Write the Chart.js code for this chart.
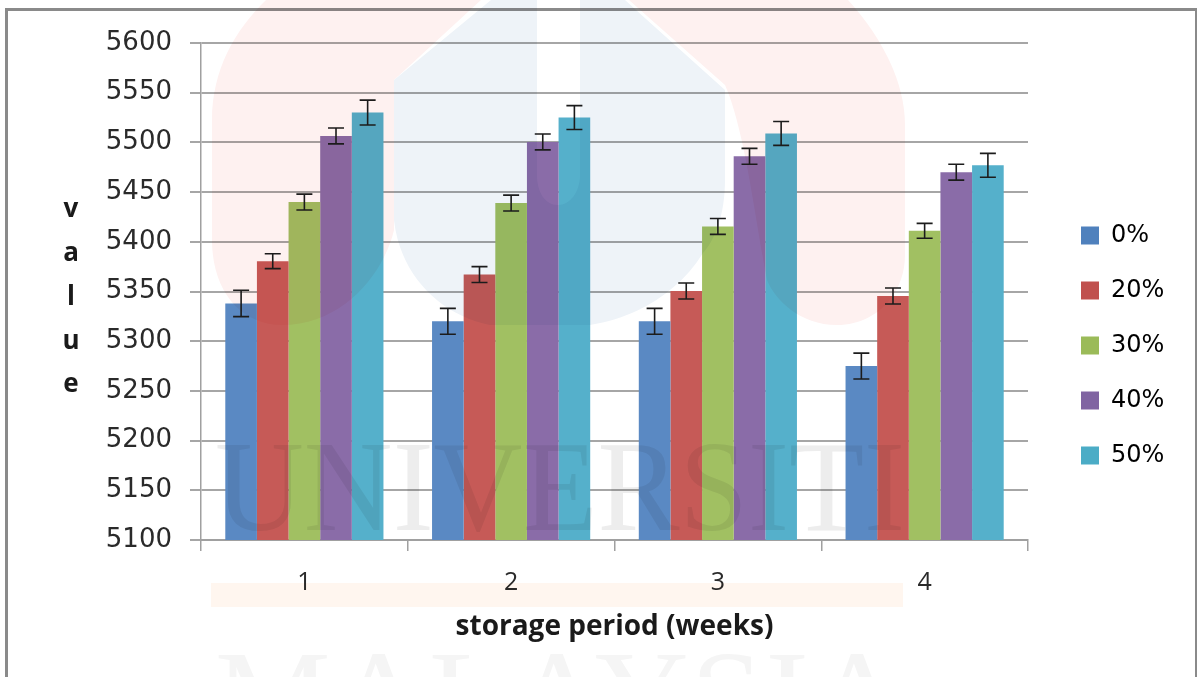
<!DOCTYPE html>
<html>
<head>
<meta charset="utf-8">
<title>storage period chart</title>
<script src="https://cdn.jsdelivr.net/npm/chart.js@4"></script>
<style>
    html, body { margin: 0; padding: 0; background: #fff; overflow: hidden; }
    #wrap { position: relative; width: 1197px; height: 677px; }
    #wrap canvas { position: absolute; left: 0; top: 0; }
    #frame { position: absolute; left: 5px; top: 8px; width: 1187px; height: 680px; border: 3px solid #8a8a8a; }
    #mark { position: absolute; left: 0; top: 0; mix-blend-mode: multiply; pointer-events: none; }
</style>
</head>
<body>
<div id="wrap">
    <canvas id="chart" width="1197" height="677"></canvas>
    <div id="frame"></div>
    <!-- marca de agua de la universidad, encima del grafico -->
    <svg id="mark" width="1197" height="677">
        <path fill="#fef1f0" d="M266 0 H481 L394 80 V230 C385 270 345 325 282 325 C240 325 212 290 212 240 V120 C212 70 235 30 266 0 Z"/>
        <path fill="#fef1f0" d="M629 0 H848 C880 35 905 80 905 125 V255 C905 295 875 325 837 325 C800 325 775 300 767 280 C755 220 745 130 725 85 Z"/>
        <path fill="#eef3f8" d="M394 80 L491 0 H537 V175 C537 192 545 205 558 205 C570 205 580 192 580 175 V0 H625 L725 90 V180 C725 215 715 240 703 253 C680 290 640 317 590 325 H490 C440 315 400 275 394 220 Z"/>
        <rect x="211" y="583" width="692" height="24" fill="#fff6ef"/>
        <text x="215" y="530" font-family="Liberation Serif" font-size="130" fill="#ededed" textLength="690" lengthAdjust="spacingAndGlyphs">UNIVERSITI</text>
        <text x="215" y="740" font-family="Liberation Serif" font-size="130" fill="#f5f5f5" textLength="690" lengthAdjust="spacing">MALAYSIA</text>
    </svg>
</div>
<script>
const semanas = ['1', '2', '3', '4'];
const tickValores = [5100, 5150, 5200, 5250, 5300, 5350, 5400, 5450, 5500, 5550, 5600];
const tituloY = ['v', 'a', 'l', 'u', 'e'];

const series = ['0%', '20%', '30%', '40%', '50%'];
const valores0 = [5338, 5320, 5320, 5275];
const valores20 = [5380.5, 5367, 5350.5, 5345.5];
const valores30 = [5440, 5439, 5415.5, 5411];
const valores40 = [5506.5, 5500.5, 5486, 5470];
const valores50 = [5530, 5525, 5509, 5477];

const error0 = [13.3, 13, 13, 13];
const error20 = [7.5, 8, 8, 8];
const error30 = [8, 8, 8, 7.5];
const error40 = [8, 8, 8, 8];
const error50 = [12.5, 12, 12, 12];

const coloresBarra = ['#5a89c3', '#c65a57', '#a1c062', '#8a6ca8', '#55b0cb'];
const coloresLeyenda = ['#4f81bd', '#c0504d', '#9bbb59', '#8064a2', '#4bacc6'];

const todosValores = [valores0, valores20, valores30, valores40, valores50];
const todosErrores = [error0, error20, error30, error40, error50];

// Barras de error
const barrasError = {
    id: 'barrasError',
    afterDatasetsDraw(chart) {
        const ctx = chart.ctx;
        const y = chart.scales.y;
        ctx.save();
        ctx.strokeStyle = '#1c1c1c';
        ctx.lineWidth = 1.6;
        todosErrores.forEach((errores, s) => {
            const meta = chart.getDatasetMeta(s);
            errores.forEach((e, i) => {
                const x = meta.data[i].x;
                const alto = y.getPixelForValue(todosValores[s][i] + e);
                const bajo = y.getPixelForValue(todosValores[s][i] - e);
                ctx.beginPath();
                ctx.moveTo(x, alto); ctx.lineTo(x, bajo);
                ctx.moveTo(x - 8, alto); ctx.lineTo(x + 8, alto);
                ctx.moveTo(x - 8, bajo); ctx.lineTo(x + 8, bajo);
                ctx.stroke();
            });
        });
        ctx.restore();
    }
};

// Titulo del eje Y en vertical, letra por letra
const tituloVertical = {
    id: 'tituloVertical',
    afterDraw(chart) {
        const ctx = chart.ctx;
        ctx.save();
        ctx.font = 'bold 26px "Open Sans"';
        ctx.fillStyle = '#1a1a1a';
        ctx.textAlign = 'center';
        ctx.textBaseline = 'middle';
        tituloY.forEach((letra, i) => ctx.fillText(letra, 71, 210 + i * 43.7));
        ctx.restore();
    }
};

// Separa la leyenda del area del grafico
const separarLeyenda = {
    id: 'separarLeyenda',
    beforeLayout(chart) {
        chart.legend.fit = function() {
            Object.getPrototypeOf(this).fit.call(this);
            this.width = 169;
        };
    },
    afterLayout(chart) {
        chart.legend.left += 22;
    }
};

new Chart(document.getElementById('chart').getContext('2d'), {
    type: 'bar',
    data: {
        labels: semanas,
        datasets: series.map((nombre, s) => ({
            label: nombre,
            data: todosValores[s],
            backgroundColor: coloresBarra[s],
            categoryPercentage: 0.765,
            barPercentage: 1
        }))
    },
    plugins: [barrasError, tituloVertical, separarLeyenda],
    options: {
        responsive: false,
        animation: false,
        layout: { padding: { top: 43, bottom: 29 } },
        plugins: {
            tooltip: { enabled: false },
            legend: {
                position: 'right',
                labels: {
                    boxWidth: 18,
                    boxHeight: 18,
                    padding: 31,
                    color: '#2a2a2a',
                    font: { family: 'DejaVu Sans', size: 24 },
                    generateLabels: () => series.map((nombre, s) => ({
                        text: nombre,
                        fillStyle: coloresLeyenda[s],
                        strokeStyle: coloresLeyenda[s],
                        lineWidth: 0,
                        datasetIndex: s
                    }))
                }
            }
        },
        scales: {
            x: {
                afterFit(scale) { scale.height = 108; },
                grid: { drawOnChartArea: false, color: '#a0a0a0', lineWidth: 1.5, tickLength: 11 },
                border: { color: '#a0a0a0', width: 2 },
                ticks: { color: '#2a2a2a', padding: 17, font: { family: 'Open Sans', size: 25 } },
                title: {
                    display: true,
                    text: 'storage period (weeks)',
                    color: '#1a1a1a',
                    padding: { top: 0, bottom: 4 },
                    font: { family: 'Open Sans', size: 28, weight: 'bold' }
                }
            },
            y: {
                min: 5100,
                max: 5600,
                afterFit(scale) { scale.width = 201; },
                afterBuildTicks(scale) { scale.ticks = tickValores.map(v => ({ value: v })); },
                grid: { color: '#a6a6a6', lineWidth: 2, tickLength: 11 },
                border: { color: '#a0a0a0', width: 1.5 },
                ticks: {
                    color: '#2a2a2a',
                    padding: 18,
                    font: { family: 'DejaVu Sans', size: 26 },
                    callback: v => String(v)
                }
            }
        }
    }
});
</script>
</body>
</html>
